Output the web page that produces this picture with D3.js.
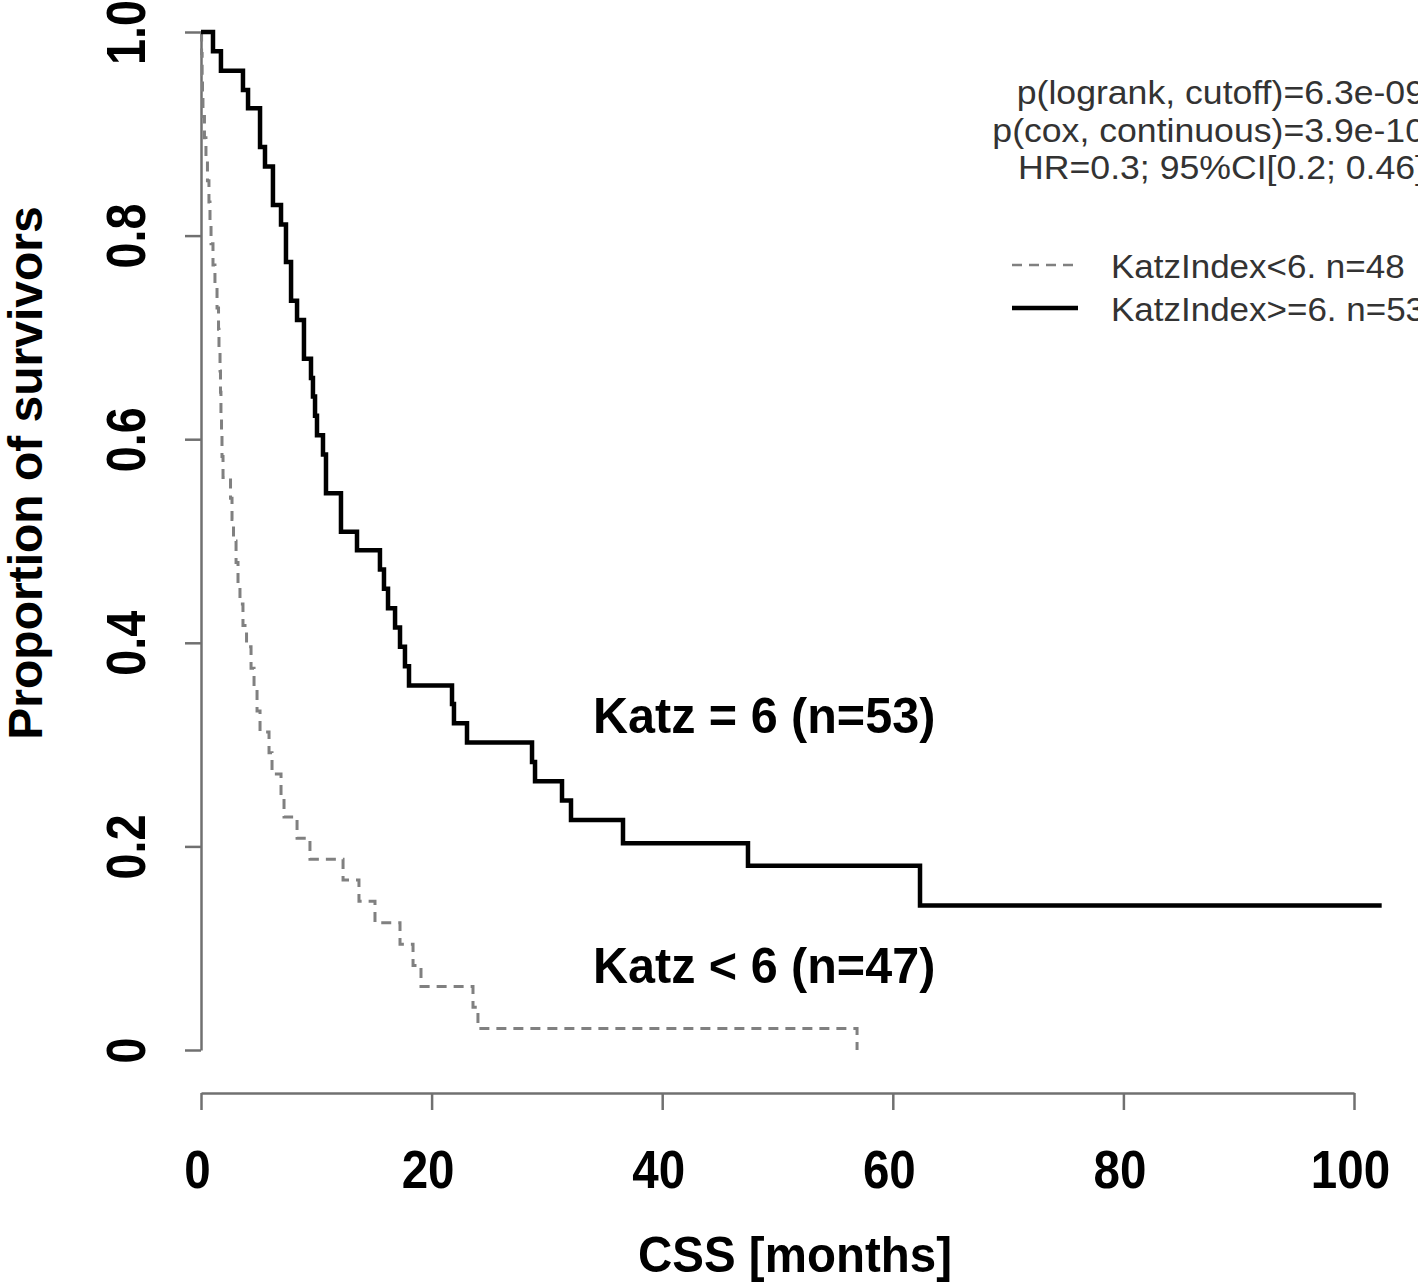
<!DOCTYPE html>
<html><head><meta charset="utf-8">
<script src="https://cdn.jsdelivr.net/npm/d3@7"></script>
<style>body{margin:0;background:#fff}svg{display:block}</style>
</head><body><svg id="chart" width="1418" height="1286"></svg>
<script>
// ---- data ----
const xTicks = [0, 20, 40, 60, 80, 100];
const yTicks = [0, 0.2, 0.4, 0.6, 0.8, 1.0];
const yTickLabels = ["0", "0.2", "0.4", "0.6", "0.8", "1.0"];

// Katz >= 6 (solid)
const highTimes = [0, 1.04, 1.73, 3.64, 4.08, 5.12, 5.55, 6.24, 6.94, 7.37, 7.81, 8.33, 8.93, 9.54, 9.71, 9.89, 10.06, 10.58, 10.84, 12.14, 13.53, 15.52, 15.87, 16.22, 16.83, 17.26, 17.69, 18.04, 21.77, 21.94, 23.07, 28.71, 28.97, 31.31, 32.09, 36.60, 47.44, 62.36, 102.4];
const highSurv  = [1, 0.981, 0.962, 0.943, 0.925, 0.887, 0.868, 0.830, 0.811, 0.774, 0.736, 0.717, 0.679, 0.660, 0.642, 0.623, 0.604, 0.585, 0.547, 0.509, 0.491, 0.472, 0.453, 0.434, 0.415, 0.396, 0.377, 0.358, 0.340, 0.321, 0.302, 0.283, 0.264, 0.245, 0.226, 0.203, 0.181, 0.142, 0.142];

// Katz < 6 (dashed)
const lowTimes = [0, 0.05, 0.10, 0.13, 0.17, 0.30, 0.43, 0.56, 0.69, 0.78, 0.87, 1.04, 1.21, 1.39, 1.52, 1.56, 1.65, 1.69, 1.73, 1.78, 1.82, 1.91, 2.56, 2.69, 2.82, 3.04, 3.21, 3.38, 3.64, 3.95, 4.34, 4.60, 4.86, 5.12, 5.90, 6.16, 6.94, 7.20, 8.33, 9.45, 12.32, 13.70, 15.09, 17.26, 18.39, 19.08, 23.59, 24.02, 56.90];
const lowSurv  = [1, 0.979, 0.958, 0.938, 0.917, 0.896, 0.875, 0.854, 0.833, 0.813, 0.792, 0.771, 0.750, 0.729, 0.708, 0.688, 0.667, 0.646, 0.625, 0.604, 0.583, 0.5625, 0.542, 0.521, 0.500, 0.479, 0.458, 0.438, 0.417, 0.396, 0.375, 0.354, 0.333, 0.3125, 0.292, 0.271, 0.250, 0.229, 0.208, 0.1875, 0.167, 0.146, 0.125, 0.104, 0.083, 0.0625, 0.042, 0.021, 0];

const statsLines = ["p(logrank, cutoff)=6.3e-09", "p(cox, continuous)=3.9e-10", "HR=0.3; 95%CI[0.2; 0.46]"];
const legendLabels = ["KatzIndex<6. n=48", "KatzIndex>=6. n=53"];
const groupLabels = ["Katz = 6 (n=53)", "Katz < 6 (n=47)"];
const xTitle = "CSS [months]";
const yTitle = "Proportion of survivors";

// ---- drawing ----
const svg = d3.select("#chart");
svg.append("rect").attr("width", 1418).attr("height", 1286).attr("fill", "#fff");

const x = d3.scaleLinear().domain([0, 100]).range([201, 1354]);
const y = d3.scaleLinear().domain([0, 1]).range([1050, 32]);

const AX = "#707070";
const FONT = "'Liberation Sans', Arial, Helvetica, sans-serif";

// y axis
const yAxis = svg.append("g").attr("transform", "translate(201,0)")
  .call(d3.axisLeft(y).tickValues(yTicks).tickFormat((d, i) => yTickLabels[i]).tickSize(16).tickSizeOuter(0));
yAxis.select(".domain").attr("stroke", AX).attr("stroke-width", 2.5);
yAxis.selectAll(".tick line").attr("stroke", AX).attr("stroke-width", 2.5);
yAxis.selectAll(".tick text")
  .attr("x", null).attr("dy", null).attr("y", null)
  .attr("text-anchor", "middle")
  .attr("transform", "translate(-56,0) rotate(-90) scale(0.85,1)")
  .attr("font-family", FONT).attr("font-weight", "bold").attr("font-size", 55).attr("fill", "#000");

// x axis
const xAxis = svg.append("g").attr("transform", "translate(0,1093)")
  .call(d3.axisBottom(x).tickValues(xTicks).tickFormat(d3.format("d")).tickSize(17).tickSizeOuter(0));
xAxis.select(".domain").attr("stroke", AX).attr("stroke-width", 2.5);
xAxis.selectAll(".tick line").attr("stroke", AX).attr("stroke-width", 2.5);
xAxis.selectAll(".tick text")
  .attr("y", null).attr("dy", null)
  .attr("transform", "translate(-4,95) scale(0.88,1)")
  .attr("text-anchor", "middle")
  .attr("font-family", FONT).attr("font-weight", "bold").attr("font-size", 54).attr("fill", "#000");

// curves
const line = d3.line().x(d => x(d[0])).y(d => y(d[1])).curve(d3.curveStepAfter);
const highData = highTimes.map((t, i) => [t, highSurv[i]]);
const lowData = lowTimes.map((t, i) => [t, lowSurv[i]]);

svg.append("path").datum(lowData).attr("d", line)
  .attr("fill", "none").attr("stroke", "#808080").attr("stroke-width", 3)
  .attr("stroke-dasharray", "10,7");
svg.append("path").datum(highData).attr("d", line)
  .attr("fill", "none").attr("stroke", "#000").attr("stroke-width", 4.5)
  .attr("stroke-linejoin", "miter");

// axis titles
svg.append("text").attr("transform", "translate(795,1272) scale(0.95,1)")
  .attr("text-anchor", "middle").attr("font-family", FONT).attr("font-weight", "bold")
  .attr("font-size", 50).attr("fill", "#000").text(xTitle);
svg.append("text").attr("transform", "translate(42,473) rotate(-90)")
  .attr("text-anchor", "middle").attr("font-family", FONT).attr("font-weight", "bold")
  .attr("font-size", 48).attr("fill", "#000").text(yTitle);

// group labels
const gl = [[593, 733], [593, 983]];
groupLabels.forEach((t, i) => {
  svg.append("text").attr("transform", `translate(${gl[i][0]},${gl[i][1]}) scale(0.97,1)`)
    .attr("font-family", FONT).attr("font-weight", "bold").attr("font-size", 50)
    .attr("fill", "#000").text(t);
});

// stats text (right aligned, runs past the right edge as in the reference)
const statsY = [104, 142, 179];
statsLines.forEach((t, i) => {
  svg.append("text").attr("transform", `translate(1425,${statsY[i]}) scale(1.08,1)`)
    .attr("text-anchor", "end").attr("font-family", FONT).attr("font-size", 33)
    .attr("fill", "#333").text(t);
});

// legend
const legY = [265, 308];
const legStyles = [{c: "#808080", w: 2.5, dash: "10,7"}, {c: "#000", w: 4.5, dash: null}];
legendLabels.forEach((t, i) => {
  svg.append("line").attr("x1", 1012).attr("x2", 1078).attr("y1", legY[i]).attr("y2", legY[i])
    .attr("stroke", legStyles[i].c).attr("stroke-width", legStyles[i].w)
    .attr("stroke-dasharray", legStyles[i].dash);
  svg.append("text").attr("transform", `translate(1111,${legY[i] + 13}) scale(1.06,1)`)
    .attr("font-family", FONT).attr("font-size", 33).attr("fill", "#333").text(t);
});
</script></body></html>
